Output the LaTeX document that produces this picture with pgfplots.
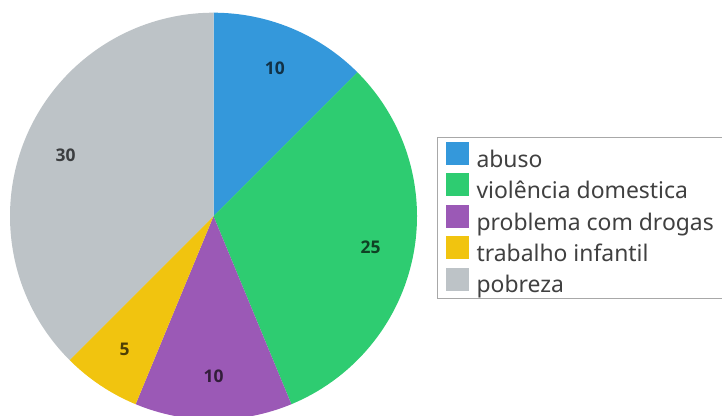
\documentclass[border=0pt]{standalone}
\usepackage{pgfplots}
\pgfplotsset{compat=1.18}
\usepackage{pgfplotstable}
\usepackage{fontspec}
\setmainfont{Noto Sans}
\newfontfamily\labelfont{Open Sans}
\definecolor{c0}{HTML}{3498DB}
\definecolor{c1}{HTML}{2ECC71}
\definecolor{c2}{HTML}{9B59B6}
\definecolor{c3}{HTML}{F1C40F}
\definecolor{c4}{HTML}{BDC3C7}
\definecolor{legtext}{HTML}{404040}
\definecolor{legborder}{HTML}{A8A8A8}

\pgfplotstableread[col sep=comma]{
name,value
abuso,10
violência domestica,25
problema com drogas,10
trabalho infantil,5
pobreza,30
}\piedata

\begin{document}
\begin{tikzpicture}
\begin{axis}[
  at={(213.5bp,199.8bp)}, anchor=origin,
  hide axis,
  x=203.5bp, y=203.5bp,
  xmin=-1, xmax=1, ymin=-1, ymax=1,
  clip=false,
  legend cell align=left,
  legend image code/.code={\fill[#1,draw=none] (0bp,-5.7bp) rectangle (23bp,17.3bp);},
  legend style={
    at={(axis description cs:1.049,0.6946)}, anchor=north west,
    draw=legborder, line width=1.2bp, fill=white,
    inner xsep=8bp, inner ysep=4.5bp,
    row sep=4.6bp, column sep=8bp,
    nodes={inner sep=0pt, text=legtext},
    font=\fontsize{23}{27}\selectfont,
  },
]
% total
\pgfplotstablegetrowsof{\piedata}
\pgfmathtruncatemacro\nrows{\pgfplotsretval-1}
\gdef\total{0}
\pgfplotsforeachungrouped \i in {0,...,\nrows}{%
  \pgfplotstablegetelem{\i}{value}\of\piedata
  \pgfmathsetmacro\tmpt{\total+\pgfplotsretval}%
  \xdef\total{\tmpt}%
}
\gdef\startang{90}
\pgfplotsforeachungrouped \i in {0,...,\nrows}{%
  \pgfplotstablegetelem{\i}{value}\of\piedata
  \let\v\pgfplotsretval
  \pgfmathsetmacro\endang{\startang-\v*360/\total}%
  \pgfmathsetmacro\midang{(\startang+\endang)/2}%
  \pgfmathsetmacro\sx{cos(\startang)}%
  \pgfmathsetmacro\sy{sin(\startang)}%
  \pgfmathsetmacro\lx{0.787*cos(\midang)}%
  \pgfmathsetmacro\ly{0.787*sin(\midang)}%
  \pgfmathtruncatemacro\vi{\v}%
  \edef\tmp{%
    \noexpand\fill[c\i] (axis cs:0,0) -- (axis cs:\sx,\sy) arc[start angle=\startang, end angle=\endang, radius=203.5bp] -- cycle;
    \noexpand\node[font=\noexpand\labelfont\noexpand\fontsize{17.5}{20}\noexpand\selectfont\noexpand\bfseries, text=c\i!32!black] at (axis cs:\lx,\ly) {\vi};
  }%
  \tmp
  \xdef\startang{\endang}%
}
\addlegendimage{fill=c0}\addlegendentry{abuso}
\addlegendimage{fill=c1}\addlegendentry{violência domestica}
\addlegendimage{fill=c2}\addlegendentry{\makebox[255bp][l]{problema com drogas}}
\addlegendimage{fill=c3}\addlegendentry{trabalho infantil}
\addlegendimage{fill=c4}\addlegendentry{pobreza}
\end{axis}
\pgfresetboundingbox
\path (0,0) rectangle (722bp,416bp);
\end{tikzpicture}
\end{document}
